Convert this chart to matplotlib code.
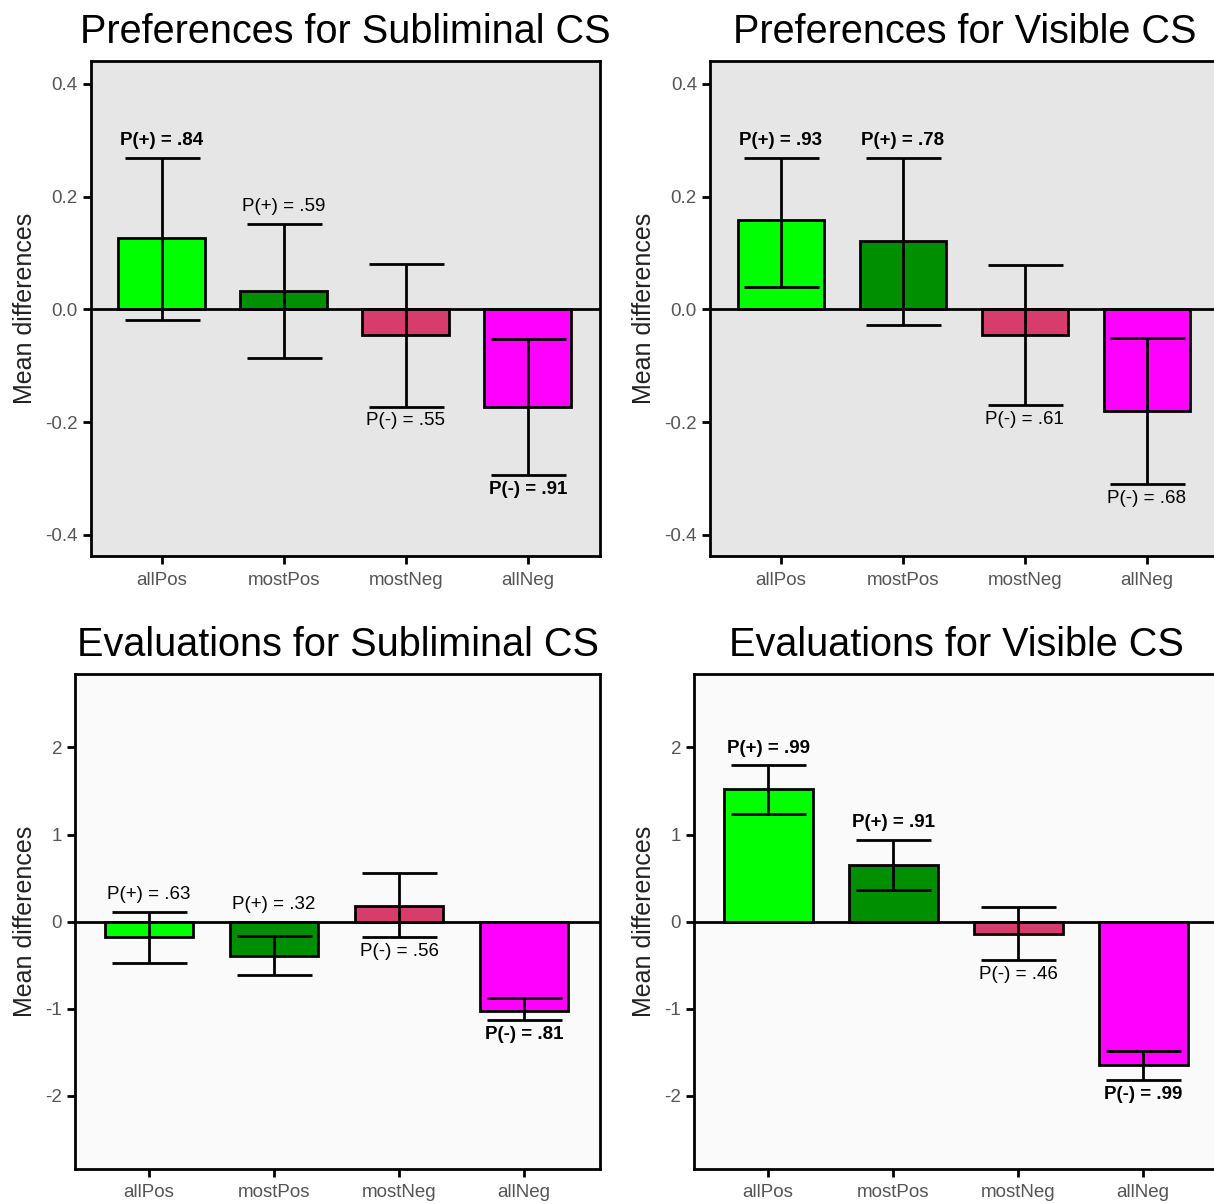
import matplotlib.pyplot as plt
import numpy as np

plt.rcParams['font.family'] = ['Liberation Sans', 'DejaVu Sans']

cats = ['allPos', 'mostPos', 'mostNeg', 'allNeg']
colors = ['#00ff00', '#008f00', '#d83c6c', '#ff00ff']

# preferences, subliminal
pref_sub = [0.126, 0.032, -0.046, -0.173]
pref_sub_lo = [-0.018, -0.087, -0.173, -0.294]
pref_sub_hi = [0.269, 0.152, 0.081, -0.053]
pref_sub_lab = ['P(+) = .84', 'P(+) = .59', 'P(-) = .55', 'P(-) = .91']
pref_sub_bold = [True, False, False, True]

# preferences, visible
pref_vis = [0.158, 0.122, -0.046, -0.181]
pref_vis_lo = [0.039, -0.027, -0.170, -0.310]
pref_vis_hi = [0.269, 0.269, 0.078, -0.050]
pref_vis_lab = ['P(+) = .93', 'P(+) = .78', 'P(-) = .61', 'P(-) = .68']
pref_vis_bold = [True, True, False, False]

# evaluations, subliminal
eval_sub = [-0.18, -0.39, 0.18, -1.02]
eval_sub_lo = [-0.48, -0.61, -0.18, -1.13]
eval_sub_hi = [0.115, -0.16, 0.56, -0.88]
eval_sub_lab = ['P(+) = .63', 'P(+) = .32', 'P(-) = .56', 'P(-) = .81']
eval_sub_bold = [False, False, False, True]

# evaluations, visible
eval_vis = [1.52, 0.65, -0.14, -1.65]
eval_vis_lo = [1.24, 0.36, -0.44, -1.82]
eval_vis_hi = [1.80, 0.94, 0.17, -1.48]
eval_vis_lab = ['P(+) = .99', 'P(+) = .91', 'P(-) = .46', 'P(-) = .99']
eval_vis_bold = [True, True, False, True]


def panel(ax, title, vals, lo, hi, labs, bold, bg, ylim, yticks, yticklabels, xlim):
    x = np.arange(len(cats))
    vals = np.array(vals)
    err = [vals - np.array(lo), np.array(hi) - vals]
    ax.set_facecolor(bg)
    ax.bar(x, vals, width=0.71, color=colors, edgecolor='black', linewidth=2, zorder=2)
    ax.errorbar(x, vals, yerr=err, fmt='none', ecolor='black', elinewidth=2,
                capsize=27, capthick=2, zorder=3)
    ax.axhline(0, color='black', linewidth=2, zorder=4)
    for i in range(len(cats)):
        w = 'bold' if bold[i] else 'normal'
        if labs[i].startswith('P(+)'):
            ax.annotate(labs[i], (x[i], max(hi[i], 0)), xytext=(0, 6), textcoords='offset points',
                        ha='center', va='bottom', fontsize=13.5, fontweight=w)
        else:
            ax.annotate(labs[i], (x[i], min(lo[i], 0)), xytext=(0, -4), textcoords='offset points',
                        ha='center', va='top', fontsize=13.5, fontweight=w)
    ax.set_xlim(*xlim)
    ax.set_ylim(*ylim)
    ax.set_yticks(yticks)
    ax.set_yticklabels(yticklabels)
    ax.set_xticks(x)
    ax.set_xticklabels(cats)
    ax.tick_params(axis='both', colors='black', labelcolor='#555555', labelsize=13.5,
                   length=6, width=2, direction='out')
    ax.tick_params(axis='x', pad=5)
    for s in ax.spines.values():
        s.set_linewidth(2)
        s.set_color('black')
    ax.set_ylabel('Mean differences', fontsize=18, color='#222222', labelpad=6)
    ax.set_title(title, fontsize=28.5, pad=13)


fig = plt.figure(figsize=(12.14, 12.04), dpi=100)
ax1 = fig.add_axes([0.075, 0.538, 0.419, 0.411])
ax2 = fig.add_axes([0.585, 0.538, 0.419, 0.411])
ax3 = fig.add_axes([0.062, 0.029, 0.4325, 0.411])
ax4 = fig.add_axes([0.572, 0.029, 0.4325, 0.411])

pt = [0.4, 0.2, 0.0, -0.2, -0.4]
ptl = ['0.4', '0.2', '0.0', '-0.2', '-0.4']
et = [2, 1, 0, -1, -2]
etl = ['2', '1', '0', '-1', '-2']

panel(ax1, 'Preferences for Subliminal CS', pref_sub, pref_sub_lo, pref_sub_hi,
      pref_sub_lab, pref_sub_bold, '#e6e6e6', (-0.438, 0.44), pt, ptl, (-0.58, 3.59))
panel(ax2, 'Preferences for Visible CS', pref_vis, pref_vis_lo, pref_vis_hi,
      pref_vis_lab, pref_vis_bold, '#e6e6e6', (-0.438, 0.44), pt, ptl, (-0.58, 3.59))
panel(ax3, 'Evaluations for Subliminal CS', eval_sub, eval_sub_lo, eval_sub_hi,
      eval_sub_lab, eval_sub_bold, '#fafafa', (-2.84, 2.84), et, etl, (-0.59, 3.61))
panel(ax4, 'Evaluations for Visible CS', eval_vis, eval_vis_lo, eval_vis_hi,
      eval_vis_lab, eval_vis_bold, '#fafafa', (-2.84, 2.84), et, etl, (-0.59, 3.61))

fig.savefig('out.png', dpi=100, facecolor='white')
